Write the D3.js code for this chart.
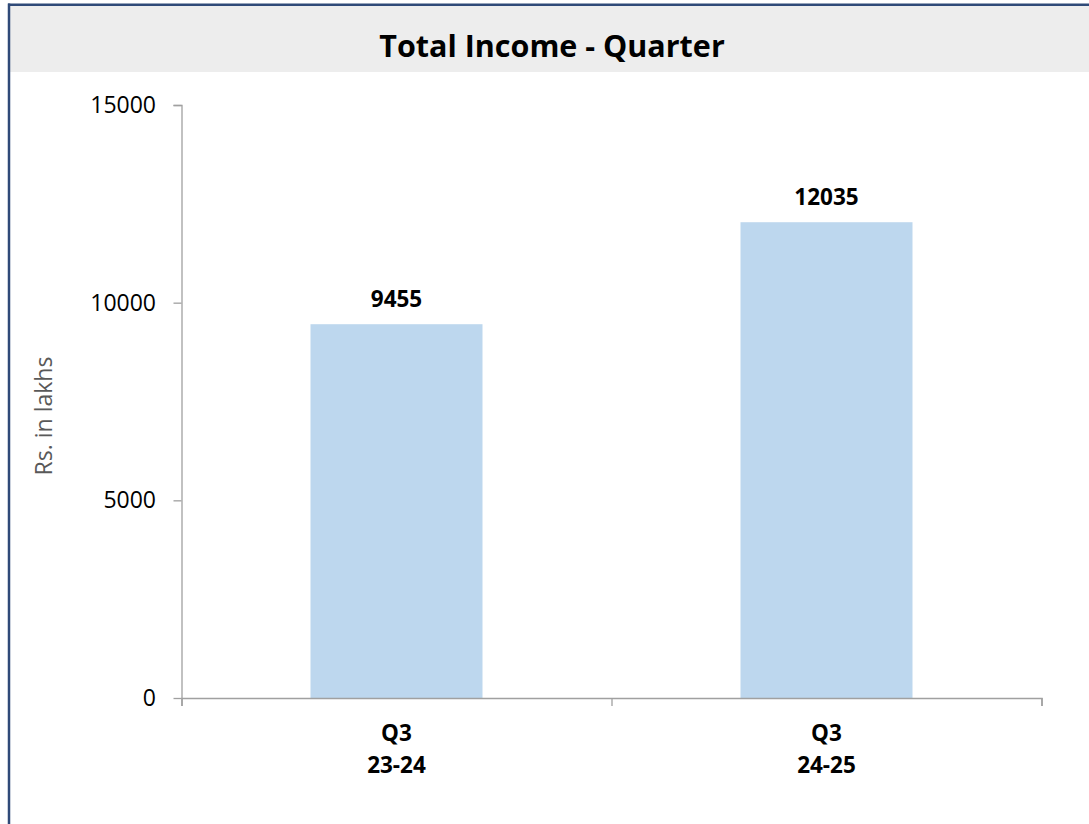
<!DOCTYPE html>
<html><head><meta charset="utf-8">
<script src="https://cdn.jsdelivr.net/npm/d3@7"></script>
<style>
html,body{margin:0;padding:0;background:#fff;}
svg{display:block;}
</style></head>
<body>
<script>
const categories = [["Q3","23-24"],["Q3","24-25"]];
const values = [9455, 12035];
const yTicks = [0, 5000, 10000, 15000];
const title = "Total Income - Quarter";
const yTitle = "Rs. in lakhs";

const W = 1089, H = 824;
const font = "'Open Sans', 'Noto Sans', sans-serif";
const svg = d3.select("body").append("svg").attr("width", W).attr("height", H);

// frame
svg.append("rect").attr("x", 0).attr("y", 0).attr("width", W).attr("height", H).attr("fill", "#fff");
svg.append("rect").attr("x", 10).attr("y", 6).attr("width", W - 10).attr("height", 66).attr("fill", "#EDEDED");
svg.append("line").attr("x1", 9).attr("x2", 9).attr("y1", 3.5).attr("y2", H).attr("stroke", "#2F4A78").attr("stroke-width", 2.5);
svg.append("line").attr("x1", 8).attr("x2", W).attr("y1", 4.8).attr("y2", 4.8).attr("stroke", "#2F4A78").attr("stroke-width", 2.5);

svg.append("text").attr("x", 552).attr("y", 57).attr("text-anchor", "middle")
  .attr("font-family", font).attr("font-weight", "bold").attr("font-size", 30.5).attr("fill", "#000")
  .text(title);

const x0 = 181.5, x1 = 1041.5, yTop = 105, yBot = 698;
const x = d3.scaleBand().domain(d3.range(categories.length)).range([x0, x1]).paddingInner(0.6).paddingOuter(0.3);
const y = d3.scaleLinear().domain([0, 15000]).range([yBot, yTop]);

// bars
svg.selectAll("rect.bar").data(values).join("rect").attr("class", "bar")
  .attr("x", (d, i) => x(i)).attr("width", x.bandwidth())
  .attr("y", d => y(d)).attr("height", d => yBot - y(d)).attr("fill", "#BDD7EE");

// y axis
const yAxis = d3.axisLeft(y).tickValues(yTicks).tickSize(8).tickPadding(8).tickFormat(d3.format("d"));
const gy = svg.append("g").attr("transform", `translate(${x0},0)`).call(yAxis);
gy.select(".domain").attr("stroke", "#A0A0A0").attr("stroke-width", 1.3).attr("d", `M-8,${yTop}.5H0.5V${yBot}`);
gy.selectAll(".tick line").attr("stroke", "#A0A0A0").attr("stroke-width", 1.3);
gy.selectAll(".tick text").attr("font-family", font).attr("font-size", 23).attr("fill", "#000").attr("x", -25.5);

// x axis
const xb = d3.scaleLinear().domain([0, categories.length]).range([x0, x1]);
const gx = svg.append("g").attr("transform", `translate(0,${yBot})`)
  .call(d3.axisBottom(xb).tickValues(d3.range(categories.length + 1)).tickSize(8).tickFormat(""));
gx.select(".domain").attr("stroke", "#A0A0A0").attr("stroke-width", 1.5);
gx.selectAll(".tick line").attr("stroke", "#A0A0A0").attr("stroke-width", 1.3);

// category labels
const cl = svg.selectAll("text.cat").data(categories).join("text").attr("class", "cat")
  .attr("x", (d, i) => x(i) + x.bandwidth() / 2).attr("text-anchor", "middle")
  .attr("font-family", font).attr("font-weight", "bold").attr("font-size", 22.5).attr("fill", "#000");
cl.each(function (d, i) {
  const t = d3.select(this);
  d.forEach((s, k) => t.append("tspan").attr("x", x(i) + x.bandwidth() / 2).attr("y", 741 + k * 32).text(s));
});

// value labels
svg.selectAll("text.val").data(values).join("text").attr("class", "val")
  .attr("x", (d, i) => x(i) + x.bandwidth() / 2).attr("y", d => y(d) - 17)
  .attr("text-anchor", "middle").attr("font-family", font).attr("font-weight", "bold")
  .attr("font-size", 22.5).attr("fill", "#000").text(d => d);

// y title
svg.append("text").attr("transform", `translate(52,416) rotate(-90)`).attr("text-anchor", "middle")
  .attr("font-family", font).attr("font-size", 23).attr("fill", "#595959").text(yTitle);
</script>
</body></html>
